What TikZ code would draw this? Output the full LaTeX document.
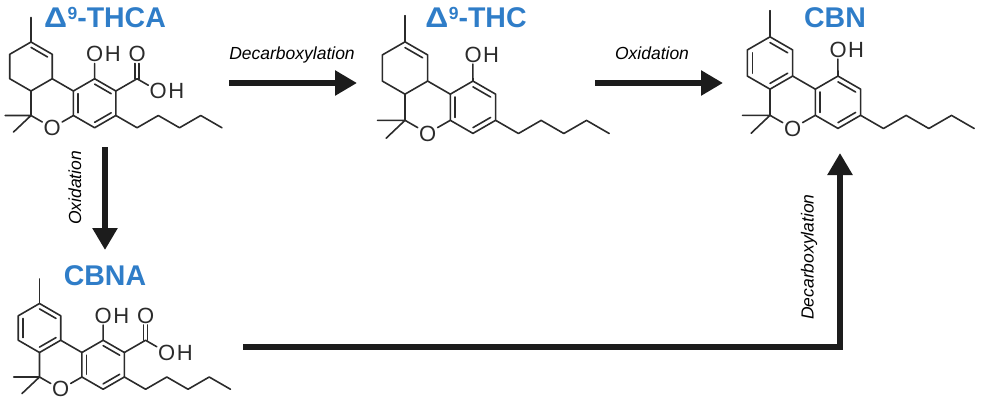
\documentclass[tikz,border=0pt]{standalone}
\usepackage{fontspec}
\setmainfont{Liberation Sans}
\usepackage{graphicx}
\usepackage{tikz}
\usetikzlibrary{positioning,calc,arrows.meta}

\definecolor{titleblue}{HTML}{2F7DC8}
\definecolor{bondgray}{HTML}{2B2B2B}
\definecolor{arrowblack}{HTML}{1C1C1C}

\newcommand{\deltanine}{\scalebox{1.12}[1]{Δ}\kern0.5pt\raisebox{7.5pt}{\fontsize{17.5}{17.5}\selectfont 9}}

\tikzset{
  bond/.style={draw=bondgray, line width=1.6pt, line join=round, line cap=round},
  atom/.style={text=bondgray, font=\fontsize{22}{22}\selectfont, inner sep=1.2pt},
  hatom/.style={text=bondgray, font=\fontsize{22}{22}\selectfont, inner sep=0pt, anchor=west},
  title/.style={text=titleblue, font=\fontsize{28.5}{28.5}\selectfont\bfseries, anchor=base},
  steplabel/.style={text=black, font=\fontsize{17.5}{17.5}\selectfont\itshape, anchor=base},
  reaction/.style={draw=arrowblack, line width=6.5pt, line join=miter,
    -{Triangle[length=22pt,width=24pt]}},
}

% tricyclic core, bond length = 1, centre of ring A at origin, y downwards
\newcommand{\cannacore}{%
  \coordinate (ac) at (0,0);
  \coordinate (a1) at (0,-1);
  \coordinate (a2) at (0.866,-0.5);
  \coordinate (a3) at (0.866,0.5);
  \coordinate (a4) at (0,1);
  \coordinate (a5) at (-0.866,0.5);
  \coordinate (a6) at (-0.866,-0.5);
  \coordinate (gem) at (0,2);
  \coordinate (cc) at (2.598,1.5);
  \coordinate (c1) at (2.598,0.5);
  \coordinate (c2) at (3.464,1);
  \coordinate (c3) at (3.464,2);
  \coordinate (c4) at (2.598,2.5);
  \coordinate (c4a) at (1.732,2);
  \coordinate (c10b) at (1.732,1);
  \node[atom] (ox) at (0.866,2.5) {O};
  % ring A with methyl
  \draw[bond] (a1) -- (a2) -- (a3) -- (a4) -- (a5) -- (a6) -- cycle;
  \draw[bond] (a1) -- (0,-2);
  % ring B
  \draw[bond] (a4) -- (gem) -- (ox) -- (c4a);
  \draw[bond] (a3) -- (c10b);
  \draw[bond] (-1.05,2) -- (gem) -- (-0.72,2.68);
  % ring C
  \draw[bond] (c10b) -- (c1) -- (c2) -- (c3) -- (c4) -- (c4a) -- cycle;
  \foreach \p/\q in {c1/c2, c3/c4, c4a/c10b}
    \draw[bond] ($(cc)!0.78!(\p)$) -- ($(cc)!0.78!(\q)$);
  % hydroxy
  \node[atom] (o1) at (2.598,-0.5) {O};
  \node[hatom] at (o1.east) {H};
  \draw[bond] (c1) -- (o1);
  % pentyl
  \draw[bond] (c3) -- (4.330,2.5) -- (5.196,2) -- (6.062,2.5) -- (6.928,2) -- (7.794,2.5);
}

% double bond of ring A
\newcommand{\ringAene}{%
  \draw[bond] ($(ac)!0.78!(a1)$) -- ($(ac)!0.78!(a2)$);
}

% aromatic ring A
\newcommand{\ringAaro}{%
  \foreach \p/\q in {a1/a2, a3/a4, a5/a6}
    \draw[bond] ($(ac)!0.78!(\p)$) -- ($(ac)!0.78!(\q)$);
}

% carboxylic acid on c2
\newcommand{\carboxyl}{%
  \coordinate (k) at (4.330,0.5);
  \node[atom] (o2) at (4.330,-0.5) {O};
  \node[atom] (o3) at (5.196,1) {O};
  \node[hatom] at (o3.east) {H};
  \draw[bond] (c2) -- (k) -- (o3);
  \draw[bond] ($(k)+(-0.08,0)$) -- ($(o2.south)+(-0.08,0)$);
  \draw[bond] ($(k)+(0.08,0)$) -- ($(o2.south)+(0.08,0)$);
}

\begin{document}
\begin{tikzpicture}[x=1pt,y=-1pt]
\useasboundingbox (0,0) rectangle (981,400);

% molecules
\begin{scope}[shift={(31,66.5)}, scale=24.5]
  \cannacore \ringAene \carboxyl
\end{scope}
\begin{scope}[shift={(405,68)}, scale=26.2]
  \cannacore \ringAene
\end{scope}
\begin{scope}[shift={(770,63)}, scale=26.2]
  \cannacore \ringAaro
\end{scope}
\begin{scope}[shift={(39.5,328)}, scale=24.5]
  \cannacore \ringAaro \carboxyl
\end{scope}

% names
\node[title] (thca) at (105,27) {\deltanine-THCA};
\node[title] (thc) at (476,27) {\deltanine-THC};
\node[title] (cbn) at (835,27) {CBN};
\node[title] (cbna) at (105,285) {CBNA};

% reactions
\coordinate (thcaout) at (229,83);
\coordinate (thcin) at (357,83);
\coordinate (thcout) at (595,83);
\coordinate (cbnin) at (723,83);
\coordinate (thcadown) at (105,147);
\coordinate (cbnatop) at (105,250);
\coordinate (cbnaout) at (243,347);
\coordinate (bend) at (840,347);
\coordinate (cbnbottom) at (840,153);

\draw[reaction] (thcaout) -- (thcin);
\draw[reaction] (thcout) -- (cbnin);
\draw[reaction] (thcadown) -- (cbnatop);
\draw[reaction] (cbnaout) -- (bend) -- (cbnbottom);

\node[steplabel] (decarb1) at (292,59) {Decarboxylation};
\node[steplabel] (oxid1) at (652,59) {Oxidation};
\node[steplabel, rotate=90] (oxid2) at (81,188) {Oxidation};
\node[steplabel, rotate=90] (decarb2) at (813.5,257) {Decarboxylation};
\end{tikzpicture}
\end{document}
